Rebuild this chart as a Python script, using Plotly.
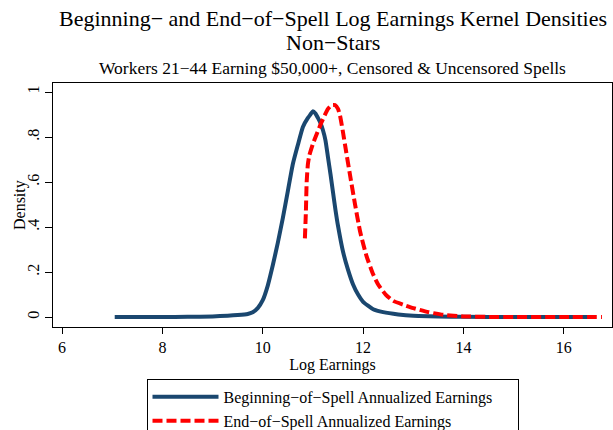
import plotly.graph_objects as go

# Beginning-of-spell density
begin_x = [7.05, 7.5, 8.0, 8.5, 9.0, 9.3, 9.5, 9.7, 9.8, 9.9, 10.0, 10.1, 10.2, 10.3, 10.4, 10.5,
           10.6, 10.7, 10.8, 10.9, 10.95, 11.0, 11.05, 11.1, 11.15, 11.2, 11.25, 11.3, 11.35, 11.4,
           11.45, 11.5, 11.6, 11.7, 11.8, 11.9, 12.0, 12.2, 12.4, 12.7, 13.0, 13.5, 14.0, 15.0,
           16.0, 16.5]
begin_y = [0.0, 0.0, 0.0005, 0.001, 0.003, 0.006, 0.009, 0.014, 0.022, 0.04, 0.075, 0.14, 0.23,
           0.33, 0.44, 0.56, 0.68, 0.765, 0.845, 0.885, 0.90, 0.915, 0.905, 0.885, 0.862, 0.83,
           0.785, 0.71, 0.635, 0.555, 0.475, 0.405, 0.29, 0.21, 0.145, 0.10, 0.068, 0.035, 0.022,
           0.012, 0.006, 0.003, 0.001, 0.0, 0.0, 0.0]

# End-of-spell density
end_x = [10.84, 10.86, 10.875, 10.9, 10.93, 11.0, 11.07, 11.17, 11.3, 11.38, 11.44, 11.5, 11.54,
         11.6, 11.64, 11.74, 11.84, 11.94, 12.07, 12.2, 12.3, 12.45, 12.6, 12.8, 13.0, 13.3, 13.6,
         14.0, 14.5, 15.0, 16.0, 16.76]
end_y = [0.35, 0.47, 0.60, 0.68, 0.72, 0.77, 0.81, 0.865, 0.925, 0.942, 0.942, 0.925, 0.895,
         0.82, 0.765, 0.63, 0.50, 0.38, 0.27, 0.19, 0.145, 0.10, 0.072, 0.055, 0.04, 0.022, 0.01,
         0.003, 0.001, 0.0, 0.0, 0.0]

x_ticks = [6, 8, 10, 12, 14, 16]
y_ticks = [0, 0.2, 0.4, 0.6, 0.8, 1]
y_tick_labels = ["0", ".2", ".4", ".6", ".8", "1"]

serif = "Liberation Serif, Times New Roman, serif"

fig = go.Figure()
fig.add_trace(go.Scatter(
    x=begin_x, y=begin_y, mode="lines",
    name="Beginning−of−Spell Annualized Earnings" + "\u00a0" * 5,
    line=dict(color="#1a476f", width=4, shape="spline", smoothing=0.5)))
fig.add_trace(go.Scatter(
    x=end_x, y=end_y, mode="lines", name="End−of−Spell Annualized Earnings",
    line=dict(color="#ff0000", width=4, dash="10px,4px", shape="spline", smoothing=0.5)))

titles = [
    ("Beginning− and End−of−Spell Log Earnings Kernel Densities", 1.266, 22),
    ("Non−Stars", 1.168, 22),
    ("Workers 21−44 Earning $50,000+, Censored & Uncensored Spells", 1.061, 17.5),
]
for text, ypos, size in titles:
    fig.add_annotation(text=text, xref="paper", yref="paper", x=0.5, y=ypos,
                       xanchor="center", yanchor="middle", showarrow=False,
                       font=dict(family=serif, size=size, color="black"))

# y-axis title placed as rotated text
fig.add_annotation(text="Density", xref="paper", yref="paper", x=-0.059, y=0.5,
                   xanchor="center", yanchor="middle", textangle=-90, showarrow=False,
                   font=dict(family=serif, size=16, color="black"))

fig.update_layout(
    width=613, height=430,
    margin=dict(l=53, r=1, t=83, b=103, autoexpand=False),
    paper_bgcolor="white", plot_bgcolor="white",
    font=dict(family=serif, color="black", size=16),
    xaxis=dict(
        range=[5.82, 16.96], tickvals=x_ticks, ticks="outside", ticklen=6, tickcolor="black",
        showgrid=False, zeroline=False, showline=True, linecolor="black", linewidth=1,
        mirror=True, tickfont=dict(size=16), automargin=False,
        title=dict(text="Log Earnings", font=dict(size=16), standoff=2)),
    yaxis=dict(
        range=[-0.044, 1.04], tickvals=y_ticks, ticktext=y_tick_labels, tickangle=-90,
        ticks="outside", ticklen=7, tickcolor="black", automargin=False,
        showgrid=False, zeroline=False, showline=True, linecolor="black", linewidth=1,
        mirror=True, tickfont=dict(size=16)),
    legend=dict(
        x=0.5, xanchor="center", y=-0.213, yanchor="top",
        bordercolor="black", borderwidth=1, bgcolor="white",
        font=dict(family=serif, size=16), itemwidth=66, tracegroupgap=0),
    showlegend=True,
)

fig.write_html(
    "out.html",
    config={"displayModeBar": False},
    post_script="document.body.style.margin='0';document.body.style.overflow='hidden';",
)
